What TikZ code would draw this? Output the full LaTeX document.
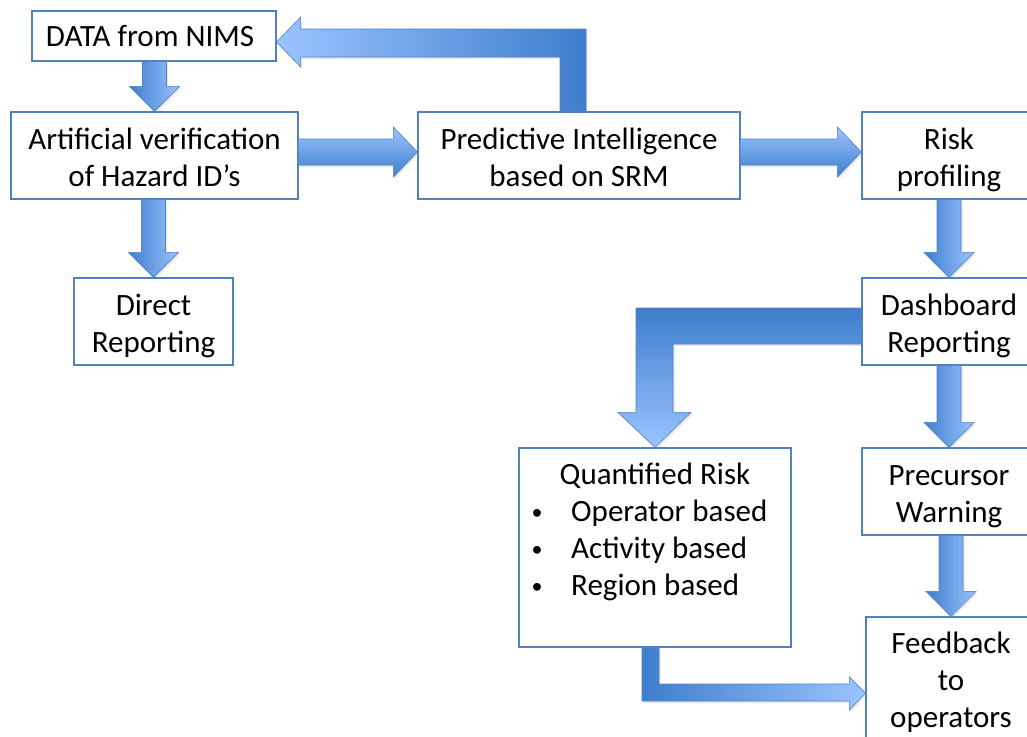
\documentclass[tikz,border=0pt]{standalone}
\usepackage{fontspec}
\setmainfont{Carlito}
\usetikzlibrary{calc,shadows}

\definecolor{boxblue}{RGB}{79,129,189}
\definecolor{arrowdark}{RGB}{62,126,204}
\definecolor{arrowlight}{RGB}{155,195,255}
\definecolor{arrowedge}{RGB}{80,130,200}

\tikzset{
  box/.style={draw=boxblue, line width=1.2pt, fill=white, inner sep=0pt,
    align=center, font=\fontsize{31}{37}\selectfont},
  % fixed text box sizes so every box sets its lines at the same place
  twoline/.style={text height=69pt, text depth=8pt},
  threeline/.style={text height=102pt, text depth=8pt},
  label/.style={inner sep=0pt, font=\fontsize{31}{37}\selectfont},
  dot/.style={inner sep=0pt, font=\fontsize{22}{37}\selectfont},
  blk/.style={draw=arrowedge, line width=0.6pt,
    drop shadow={opacity=0.18, shadow xshift=1.5pt, shadow yshift=-2pt}},
  vblk/.style={blk, left color=arrowdark, right color=arrowlight},
  hblk/.style={blk, top color=arrowlight, bottom color=arrowdark},
}

% straight block arrow pointing down, from #1.south to #2.north
\newcommand\vblock[2]{%
  \path[vblk] let \p1=(#1.south), \p2=(#2.north) in
    (\x2-12pt,\y1) -- (\x2+12pt,\y1) -- (\x2+12pt,\y2+25pt) --
    (\x2+25pt,\y2+25pt) -- (\x2,\y2) -- (\x2-25pt,\y2+25pt) --
    (\x2-12pt,\y2+25pt) -- cycle;}

% straight block arrow pointing right, from #1.east to #2.west
\newcommand\hblock[2]{%
  \path[hblk] let \p1=(#1.east), \p2=(#2.west) in
    (\x1,\y2+16.5pt) -- (\x2-24pt,\y2+16.5pt) -- (\x2-24pt,\y2+28.5pt) --
    (\x2,\y2+3.5pt) -- (\x2-24pt,\y2-21.5pt) -- (\x2-24pt,\y2-9.5pt) --
    (\x1,\y2-9.5pt) -- cycle;}

\begin{document}
\begin{tikzpicture}[x=1pt,y=1pt]
  \useasboundingbox[fill=white] (0,0) rectangle (1027,-736);

  % boxes
  \node[box, minimum width=244, minimum height=50] (data) at (154,-36) {};
  \node[label, anchor=base] (datatext) at (150,-46.5) {DATA from NIMS};
  \node[box, twoline, minimum width=287, minimum height=87] (art) at (154.5,-155.5)
    {Artificial verification\\of Hazard ID’s};
  \node[box, twoline, minimum width=322, minimum height=87] (pred) at (579,-155.5)
    {Predictive Intelligence\\based on SRM};
  \node[box, twoline, minimum width=174, minimum height=87] (risk) at (949,-155.5)
    {Risk\\profiling};
  \node[box, twoline, minimum width=159, minimum height=87] (direct) at (153.5,-321.5)
    {Direct\\Reporting};
  \node[box, twoline, minimum width=174, minimum height=87] (dash) at (949,-321.5)
    {Dashboard\\Reporting};
  \node[box, twoline, minimum width=174, minimum height=87] (prec) at (949,-491.5)
    {Precursor\\Warning};
  \node[box, threeline, minimum width=170, minimum height=126] (feed) at (951,-680)
    {Feedback\\to\\operators};
  \node[box, minimum width=272, minimum height=199] (quant) at (655,-547.5) {};

  % contents of the quantified risk box
  \node[label, anchor=base] (qtitle) at (655,-484) {Quantified Risk};
  \node[dot, anchor=base] (qb1) at (537,-519) {•};
  \node[dot, anchor=base] (qb2) at (537,-556) {•};
  \node[dot, anchor=base] (qb3) at (537,-593) {•};
  \node[label, anchor=base west] (qi1) at (571,-521) {Operator based};
  \node[label, anchor=base west] (qi2) at (571,-558) {Activity based};
  \node[label, anchor=base west] (qi3) at (571,-595) {Region based};

  % straight block arrows
  \vblock{data}{art}
  \vblock{art}{direct}
  \hblock{art}{pred}
  \hblock{pred}{risk}
  \vblock{risk}{dash}
  \vblock{dash}{prec}
  \vblock{prec}{feed}

  % elbow: predictive intelligence back to the data source
  \path[blk, left color=arrowlight, right color=arrowdark]
    let \p1=(pred.north), \p2=(data.east) in
    (\x1+7pt,\y1) -- (\x1+7pt,\y2+7pt) -- (\x2+24pt,\y2+7pt) --
    (\x2+24pt,\y2+19pt) -- (\x2,\y2-6pt) -- (\x2+24pt,\y2-31pt) --
    (\x2+24pt,\y2-21pt) -- (\x1-19pt,\y2-21pt) -- (\x1-19pt,\y1) -- cycle;

  % elbow: dashboard reporting down to quantified risk
  \path[blk, top color=arrowdark, bottom color=arrowlight]
    let \p1=(dash.west), \p2=(quant.north) in
    (\x1,\y1+13.5pt) -- (\x2-19pt,\y1+13.5pt) -- (\x2-19pt,\y2+35pt) --
    (\x2-37pt,\y2+35pt) -- (\x2,\y2) -- (\x2+36pt,\y2+35pt) --
    (\x2+18pt,\y2+35pt) -- (\x2+18pt,\y1-22.5pt) -- (\x1,\y1-22.5pt) -- cycle;

  % elbow: quantified risk to feedback
  \path[blk, left color=arrowdark, right color=arrowlight]
    let \p1=(quant.south), \p2=(feed.west) in
    (\x1-13pt,\y1) -- (\x1-13pt,\y2-21pt) -- (\x2-16pt,\y2-21pt) --
    (\x2-16pt,\y2-30pt) -- (\x2,\y2-13pt) -- (\x2-16pt,\y2+3pt) --
    (\x2-16pt,\y2-4pt) -- (\x1+4pt,\y2-4pt) -- (\x1+4pt,\y1) -- cycle;
\end{tikzpicture}
\end{document}
